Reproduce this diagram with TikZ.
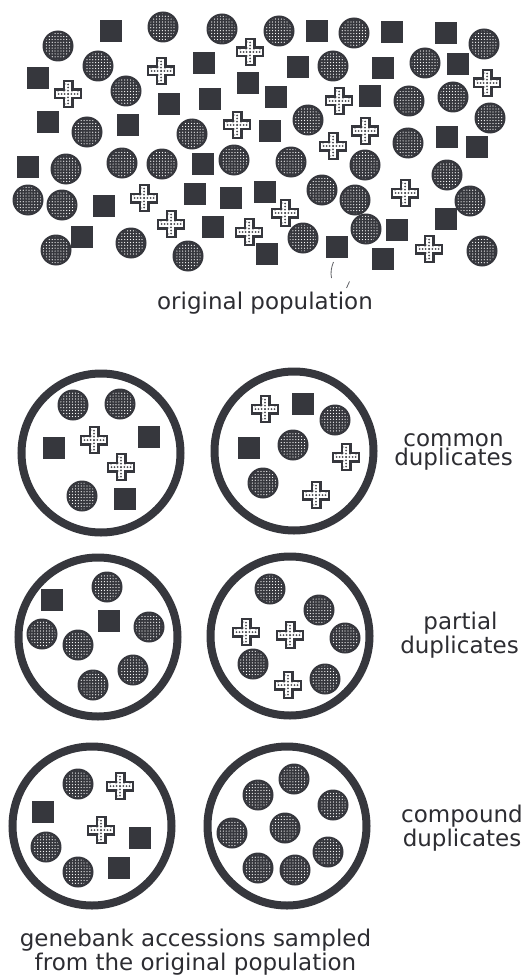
\documentclass[tikz,border=0pt]{standalone}
\usepackage{fontspec}
\usetikzlibrary{patterns}
\newfontfamily\labelfont{DejaVu Sans}
\definecolor{ink}{HTML}{36373D}
\definecolor{textcol}{HTML}{2D2D32}

% white dot raster used inside the seed discs
\pgfdeclarepatternformonly{seeddots}{\pgfqpoint{-1pt}{-1pt}}{\pgfqpoint{1pt}{1pt}}{\pgfqpoint{2.9pt}{2.9pt}}{%
  \pgfpathcircle{\pgfpointorigin}{0.62pt}\pgfusepath{fill}}

\tikzset{
  disc/.pic={
    \fill[ink] (0,0) circle (15.5pt);
    \fill[pattern=seeddots, pattern color=white] (0,0) circle (13.3pt);
  },
  block/.pic={
    \fill[ink] (-11,-11) rectangle (11,11);
  },
  plusmark/.pic={
    \filldraw[fill=white, draw=ink, line width=2.2pt, line join=miter]
      (-4.4,-13.3) -- (4.4,-13.3) -- (4.4,-4.4) -- (13.3,-4.4) -- (13.3,4.4)
      -- (4.4,4.4) -- (4.4,13.3) -- (-4.4,13.3) -- (-4.4,4.4) -- (-13.3,4.4)
      -- (-13.3,-4.4) -- (-4.4,-4.4) -- cycle;
    \foreach \k in {-9.5,-6.5,-3.3,0,3.3,6.5,9.5} {
      \fill[ink!90] (\k,0) circle (1.0pt);
      \fill[ink!90] (0,\k) circle (1.0pt);
    }
    \foreach \k in {-10,-4,4,10} {
      \fill[ink!65] (\k,-2.3) circle (0.65pt);
      \fill[ink!65] (-2.3,\k) circle (0.65pt);
    }
  },
  ring/.style={draw=ink, line width=8pt},
  caption/.style={font=\labelfont\fontsize{23}{19}\selectfont, text=textcol,
    inner sep=0pt, anchor=base, align=center},
}

\begin{document}
\begin{tikzpicture}[x=1pt, y=-1pt]
\useasboundingbox (0,0) rectangle (527,979);

% ---------- the original population ----------
\foreach \x/\y in {58/46, 163/27, 222/29, 98/66, 126/91, 87/132, 192/134,
  279/31, 354/33, 484/44, 333/66, 425/63, 409/101, 453/97, 490/118, 308/120,
  408/143, 66/169, 122/163, 162/164, 234/160, 28/200, 62/205, 56/250, 131/243,
  188/256, 291/162, 365/165, 447/175, 322/190, 355/200, 470/201, 366/229,
  303/238, 482/251}
  \pic at (\x,\y) {disc};

\foreach \x/\y in {111/31, 204/63, 38/78, 169/104, 210/99, 248/83, 48/122,
  128/125, 317/31, 392/32, 446/33, 298/67, 383/68, 458/64, 276/97, 370/96,
  270/131, 447/137, 477/147, 28/167, 203/164, 104/206, 195/194, 231/198,
  265/192, 82/237, 213/227, 267/254, 446/219, 397/230, 337/247, 383/259}
  \pic at (\x,\y) {block};

\foreach \x/\y in {250/52, 161/71, 68/94, 237/125, 487/83, 339/101, 365/131,
  333/146, 144/198, 171/224, 249/232, 405/193, 285/213, 429/249}
  \pic at (\x,\y) {plusmark};

% small pen marks under the population
\draw[ink!80, line width=0.8pt] (333.5,262) .. controls (331,268) and (330.5,273) .. (331.5,278);
\draw[ink!80, line width=0.8pt] (349.5,281.5) -- (346.5,288);

\node[caption] (orig) at (265,309) {original population};

% ---------- accession circles ----------
\node[circle, ring, minimum size=159pt, inner sep=0pt] (accA) at (101,453) {};
\node[circle, ring, minimum size=159pt, inner sep=0pt] (accB) at (294,451) {};
\node[circle, ring, minimum size=159pt, inner sep=0pt] (accC) at (98,637) {};
\node[circle, ring, minimum size=159pt, inner sep=0pt] (accD) at (290,636) {};
\node[circle, ring, minimum size=159pt, inner sep=0pt] (accE) at (92,826) {};
\node[circle, ring, minimum size=159pt, inner sep=0pt] (accF) at (287,826) {};

% common duplicates
\foreach \x/\y in {73/405, 120/404, 82/496} \pic at (\x,\y) {disc};
\foreach \x/\y in {54/448, 149/437, 125/499} \pic at (\x,\y) {block};
\foreach \x/\y in {94/440, 121/467} \pic at (\x,\y) {plusmark};

\foreach \x/\y in {335/420, 293/445, 263/483} \pic at (\x,\y) {disc};
\foreach \x/\y in {303/404, 249/448} \pic at (\x,\y) {block};
\foreach \x/\y in {265/409, 346/457, 316/495} \pic at (\x,\y) {plusmark};

% partial duplicates
\foreach \x/\y in {107/587, 42/634, 149/627, 78/645, 133/670, 93/685} \pic at (\x,\y) {disc};
\foreach \x/\y in {52/600, 109/621} \pic at (\x,\y) {block};

\foreach \x/\y in {270/589, 319/610, 345/638, 253/664, 325/679} \pic at (\x,\y) {disc};
\foreach \x/\y in {246/632, 290/635, 288/685} \pic at (\x,\y) {plusmark};

% compound duplicates
\foreach \x/\y in {78/784, 46/847, 78/872} \pic at (\x,\y) {disc};
\foreach \x/\y in {43/812, 140/838, 119/868} \pic at (\x,\y) {block};
\foreach \x/\y in {120/786, 101/830} \pic at (\x,\y) {plusmark};

\foreach \x/\y in {294/779, 258/795, 333/805, 285/828, 232/833, 328/852,
  258/868, 295/870} \pic at (\x,\y) {disc};

% ---------- labels (base anchor sits on the last line) ----------
\node[caption] (lcommon) at (453.5,465) {common\\duplicates};
\node[caption] (lpartial) at (459.5,653) {\hspace*{2pt}partial\\duplicates};
\node[caption] (lcompound) at (462,846) {compound\\duplicates};

\node[caption] (genebank) at (195.5,970) {genebank accessions sampled\\from the original population};
\end{tikzpicture}
\end{document}
